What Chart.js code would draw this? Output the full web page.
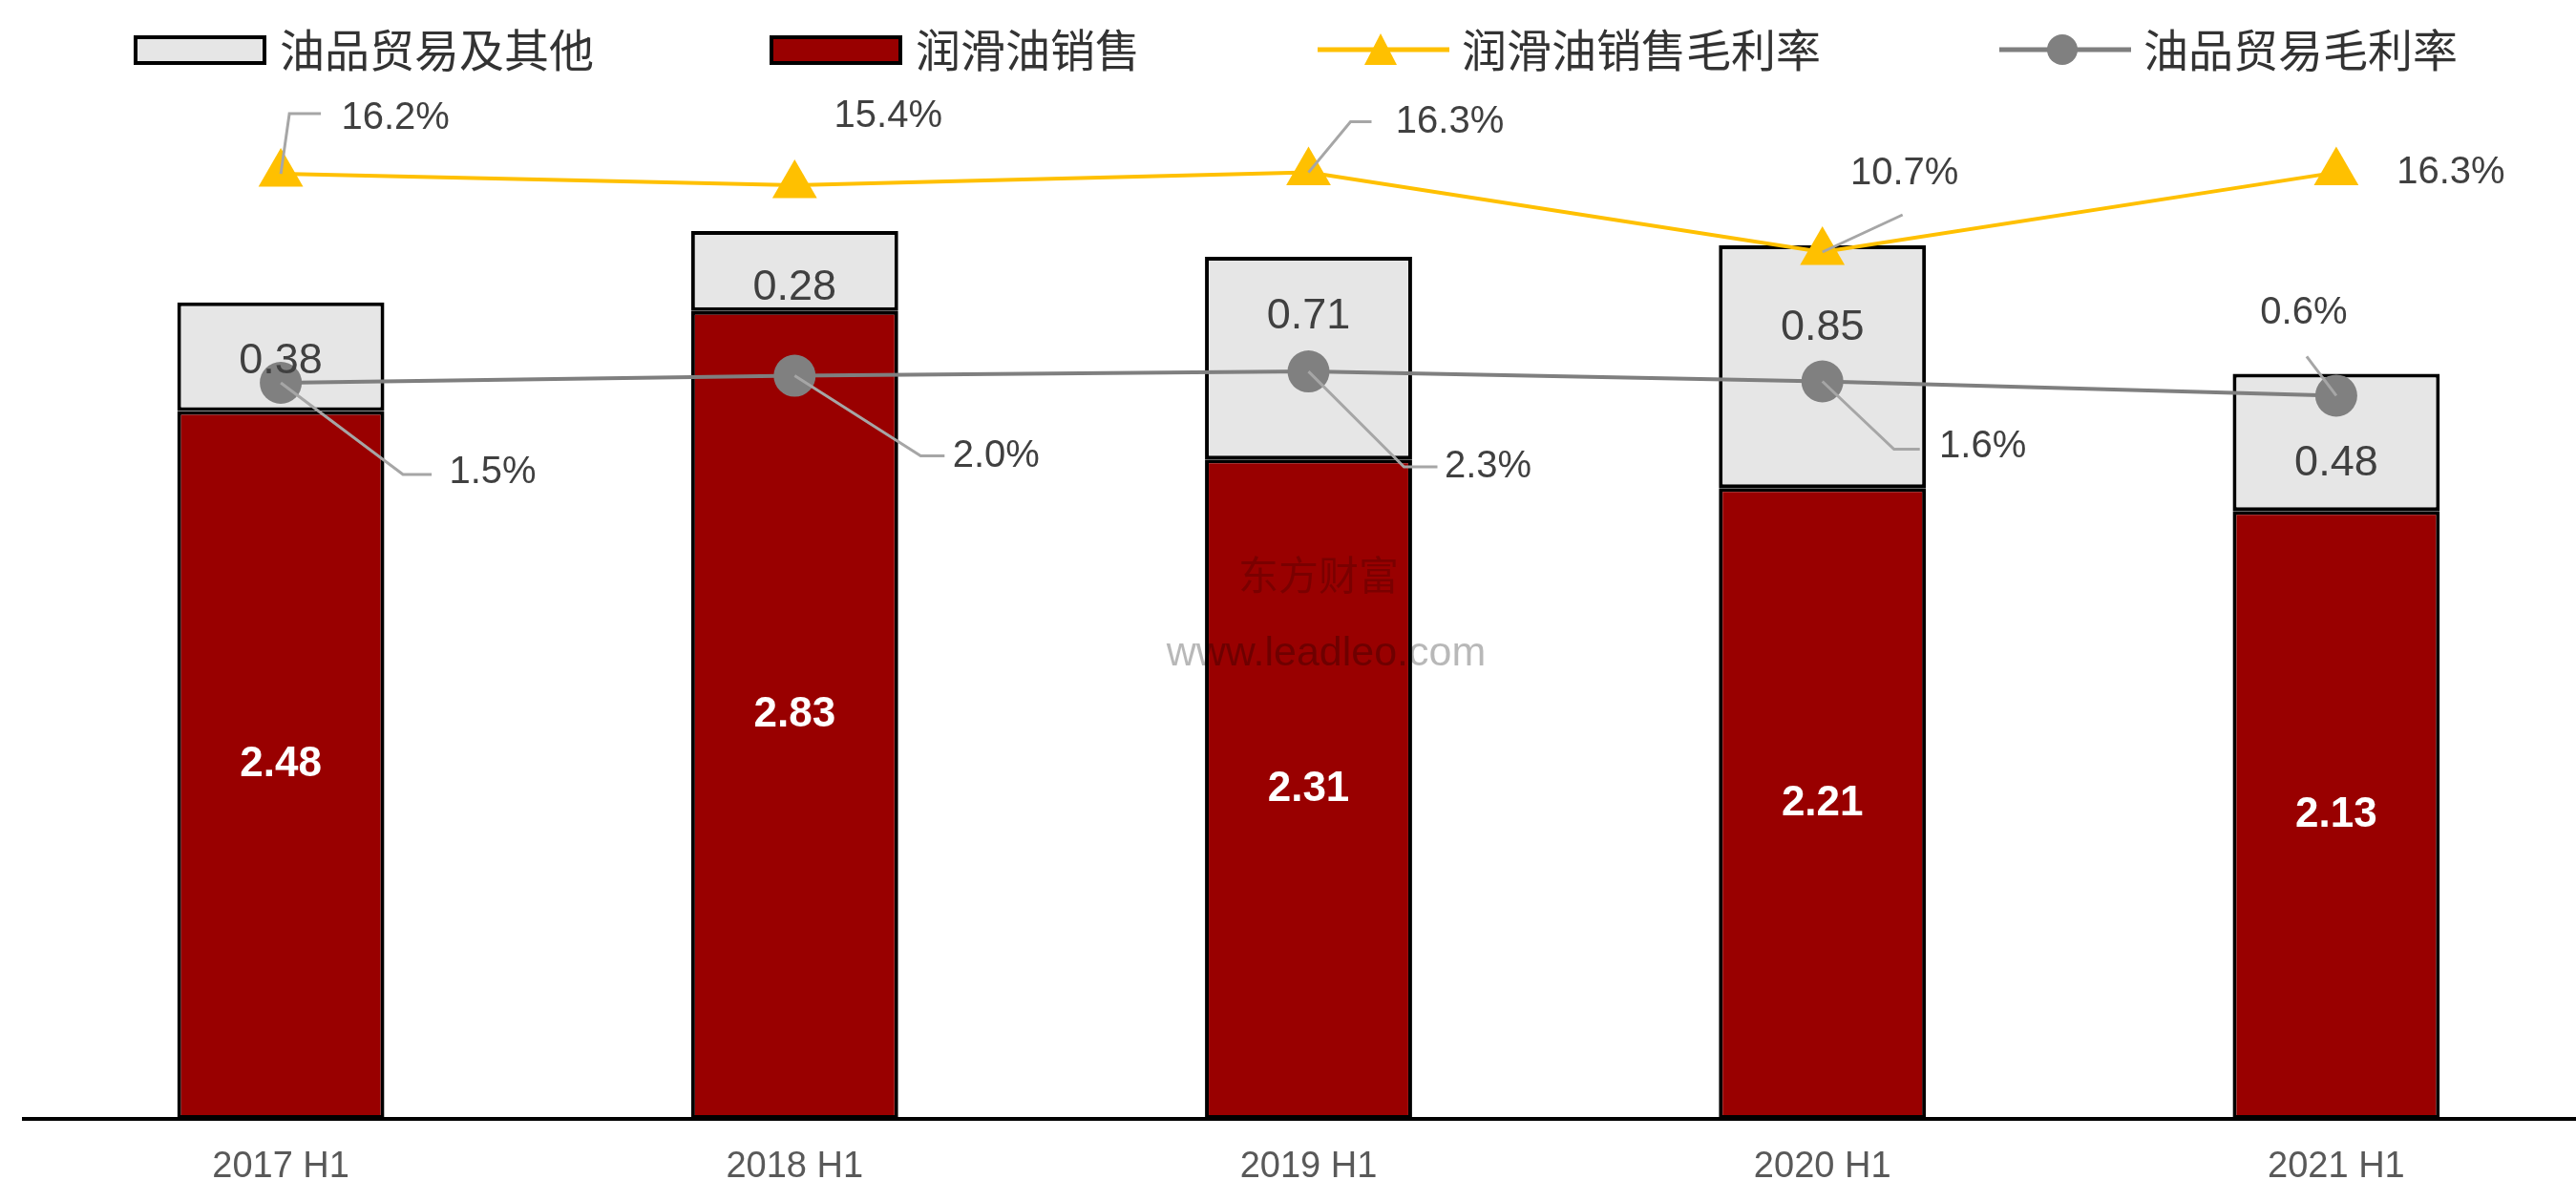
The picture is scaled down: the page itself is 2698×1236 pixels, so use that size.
<!DOCTYPE html>
<html>
<head>
<meta charset="utf-8">
<script src="https://cdn.jsdelivr.net/npm/chart.js@4.4.0/dist/chart.umd.min.js"></script>
<style>
  html, body { margin: 0; padding: 0; background: #fff; overflow: hidden; }
  #wrap { width: 2698px; height: 1236px; overflow: hidden; position: relative; }
  #chart { position: absolute; left: 0; top: 0; }
</style>
</head>
<body>
<!-- canvas a bit wider than the window: the original plot area runs past the right edge -->
<div id="wrap"><canvas id="chart" width="2720" height="1236"></canvas></div>
<script>
const categories = ['2017 H1', '2018 H1', '2019 H1', '2020 H1', '2021 H1'];
const lubeSales = [2.48, 2.83, 2.31, 2.21, 2.13];      // 润滑油销售
const tradeOther = [0.38, 0.28, 0.71, 0.85, 0.48];     // 油品贸易及其他
const lubeMargin = [16.2, 15.4, 16.3, 10.7, 16.3];     // 润滑油销售毛利率 (%)
const tradeMargin = [1.5, 2.0, 2.3, 1.6, 0.6];         // 油品贸易毛利率 (%)

const RED = '#990000';
const LIGHT = '#E6E6E6';
const YELLOW = '#FFC000';
const GREY = '#7F7F7F';
const LEADER = '#A6A6A6';
const TXT = '#404040';

// manual label placement, px relative to the point (like the hand-moved labels in excel)
const otherShift = [5, 18, -44, -41, 22];
const lubeMarginPos = [
  { dx: 120, dy: -58, leader: [[9, -63], [42, -63]] },
  { dx: 98, dy: -72 },
  { dx: 148, dy: -53, leader: [[44, -53], [66, -53]] },
  { dx: 86, dy: -82, leader: [[84, -39]] },
  { dx: 120, dy: 0 }
];
const tradeMarginPos = [
  { dx: 222, dy: 94, leader: [[128, 96], [158, 96]] },
  { dx: 211, dy: 84, leader: [[132, 84], [157, 84]] },
  { dx: 188, dy: 100, leader: [[100, 100], [135, 100]] },
  { dx: 168, dy: 68, leader: [[75, 71], [102, 71]] },
  { dx: -34, dy: -86, leader: [[-31, -41]] }
];

const labelPlugin = {
  id: 'labels',
  afterDatasetsDraw(chart) {
    const ctx = chart.ctx;
    ctx.save();
    ctx.textAlign = 'center';
    ctx.textBaseline = 'middle';

    // watermark
    ctx.font = '42px "Noto Sans CJK SC"';
    ctx.fillStyle = 'rgba(0,0,0,0.2)';
    ctx.fillText('东方财富', 1381, 602);
    ctx.font = '43px "Liberation Sans"';
    ctx.fillStyle = 'rgba(0,0,0,0.28)';
    ctx.fillText('www.leadleo.com', 1389, 685);

    const redBars = chart.getDatasetMeta(2).data;
    const greyBars = chart.getDatasetMeta(3).data;
    ctx.font = 'bold 44px "Liberation Sans"';
    ctx.fillStyle = '#fff';
    redBars.forEach((b, i) => {
      ctx.fillText(lubeSales[i].toFixed(2), b.x, (b.y + b.base) / 2);
    });
    ctx.font = '45px "Liberation Sans"';
    ctx.fillStyle = TXT;
    greyBars.forEach((b, i) => {
      ctx.fillText(String(tradeOther[i]), b.x, (b.y + b.base) / 2 + otherShift[i]);
    });

    const drawPct = (meta, values, pos) => {
      meta.data.forEach((p, i) => {
        const o = pos[i];
        if (o.leader) {
          ctx.strokeStyle = LEADER;
          ctx.lineWidth = 3;
          ctx.beginPath();
          ctx.moveTo(p.x, p.y);
          o.leader.forEach(l => ctx.lineTo(p.x + l[0], p.y + l[1]));
          ctx.stroke();
        }
        ctx.font = '40px "Liberation Sans"';
        ctx.fillStyle = TXT;
        ctx.fillText(values[i].toFixed(1) + '%', p.x + o.dx, p.y + o.dy);
      });
    };
    drawPct(chart.getDatasetMeta(0), lubeMargin, lubeMarginPos);
    drawPct(chart.getDatasetMeta(1), tradeMargin, tradeMarginPos);
    ctx.restore();
  }
};

// legend drawn by hand so the line series show line + marker
const legendPlugin = {
  id: 'handLegend',
  afterDraw(chart) {
    const ctx = chart.ctx;
    const ds = chart.data.datasets;
    const y = 52;
    ctx.save();
    ctx.font = '47px "Noto Sans CJK SC"';
    ctx.textAlign = 'left';
    ctx.textBaseline = 'middle';
    const items = [
      { d: ds[3], x: 142, kind: 'box' },
      { d: ds[2], x: 808, kind: 'box' },
      { d: ds[0], x: 1380, kind: 'line' },
      { d: ds[1], x: 2094, kind: 'line' }
    ];
    items.forEach(it => {
      if (it.kind === 'box') {
        ctx.fillStyle = it.d.backgroundColor;
        ctx.fillRect(it.x, y - 13, 135, 27);
        ctx.strokeStyle = '#000';
        ctx.lineWidth = 4;
        ctx.strokeRect(it.x, y - 13, 135, 27);
      } else {
        ctx.strokeStyle = it.d.borderColor;
        ctx.lineWidth = 5;
        ctx.beginPath();
        ctx.moveTo(it.x, y);
        ctx.lineTo(it.x + 138, y);
        ctx.stroke();
        ctx.fillStyle = it.d.pointBackgroundColor;
        const cx = it.x + 66;
        ctx.beginPath();
        if (it.d.pointStyle === 'triangle') {
          ctx.moveTo(cx, y - 17);
          ctx.lineTo(cx + 17, y + 16);
          ctx.lineTo(cx - 17, y + 16);
          ctx.closePath();
        } else {
          ctx.arc(cx, y, 16, 0, Math.PI * 2);
        }
        ctx.fill();
      }
      ctx.fillStyle = '#333';
      ctx.fillText(it.d.label, it.x + 151, y);
    });
    ctx.restore();
  }
};

Chart.defaults.font.family = '"Liberation Sans", Arial, sans-serif';

new Chart(document.getElementById('chart'), {
  data: {
    labels: categories,
    datasets: [
      {
        type: 'line', label: '润滑油销售毛利率', data: lubeMargin, yAxisID: 'y2', order: 0,
        borderColor: YELLOW, borderWidth: 4, pointStyle: 'triangle', pointRadius: 27,
        pointBackgroundColor: YELLOW, pointBorderColor: YELLOW, pointBorderWidth: 0, tension: 0
      },
      {
        type: 'line', label: '油品贸易毛利率', data: tradeMargin, yAxisID: 'y2', order: 1,
        borderColor: GREY, borderWidth: 4, pointStyle: 'circle', pointRadius: 22,
        pointBackgroundColor: '#808080', pointBorderColor: '#808080', pointBorderWidth: 0, tension: 0
      },
      {
        type: 'bar', label: '润滑油销售', data: lubeSales, yAxisID: 'y', order: 2,
        backgroundColor: RED, borderColor: '#000', borderWidth: 4, borderSkipped: false,
        barPercentage: 0.403, categoryPercentage: 1
      },
      {
        type: 'bar', label: '油品贸易及其他', data: tradeOther, yAxisID: 'y', order: 3,
        backgroundColor: LIGHT, borderColor: '#000', borderWidth: 4, borderSkipped: false,
        barPercentage: 0.403, categoryPercentage: 1
      }
    ]
  },
  options: {
    responsive: false,
    devicePixelRatio: 1,
    animation: false,
    layout: { autoPadding: false, padding: { top: 125.5, left: 25, right: 4, bottom: 0 } },
    plugins: { legend: { display: false }, tooltip: { enabled: false } },
    scales: {
      x: {
        stacked: true,
        grid: { display: false, drawTicks: false },
        border: { display: true, color: '#000', width: 4 },
        ticks: { color: '#595959', font: { size: 38 }, padding: 28 },
        afterFit: s => { s.height = 64; s.paddingLeft = 0; s.paddingRight = 0; }
      },
      y: { display: false, stacked: true, min: 0, max: 3.5 },
      y2: { display: false, min: -50.27, max: 20 }
    }
  },
  plugins: [labelPlugin, legendPlugin]
});
</script>
</body>
</html>
